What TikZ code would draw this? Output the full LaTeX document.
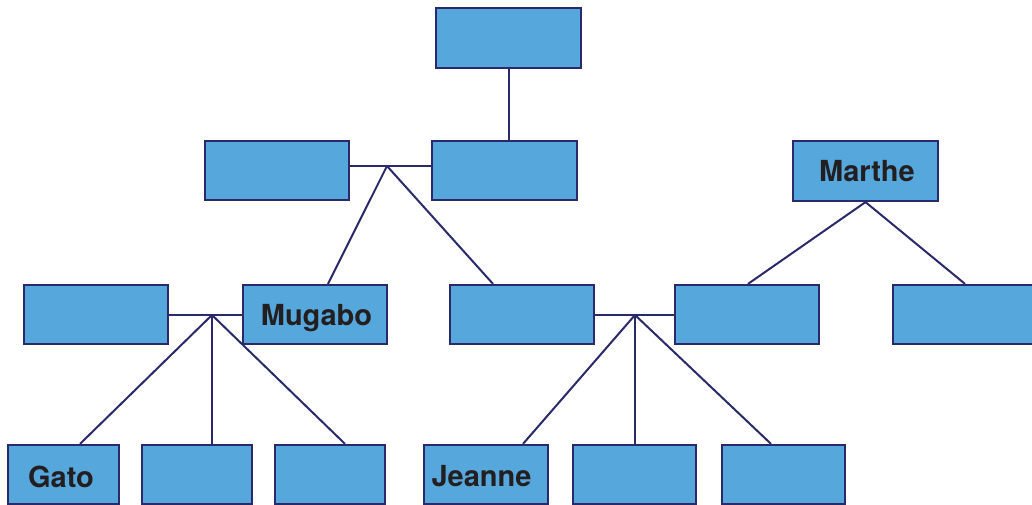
\documentclass[tikz,border=0pt]{standalone}
\usepackage{fontspec}
\setmainfont{TeX Gyre Heros}
\definecolor{boxfill}{HTML}{55A7DC}
\definecolor{navy}{HTML}{2A2A6A}
\definecolor{ink}{HTML}{231F20}
\begin{document}
\begin{tikzpicture}[x=1pt,y=-1pt,
  person/.style={draw=navy,line width=2.2pt,fill=boxfill,inner sep=0pt,
    minimum height=59pt},
  every label/.style={font=\fontsize{29}{31}\selectfont\bfseries,text=ink,
    inner sep=0pt,text height=20.8pt,text depth=0pt},
  link/.style={draw=navy,line width=2pt}]
\useasboundingbox (0,0) rectangle (1032,505);
% generation 1
\node[person,minimum width=145pt,minimum height=60pt] (top) at (508.5,38) {};
% generation 2
\node[person,minimum width=144pt] (p1) at (277,170.5) {};
\node[person,minimum width=145pt] (p2) at (504.5,170.5) {};
\node[person,minimum width=145pt,minimum height=60pt,
  label={[xshift=1.5pt]center:Marthe}] (marthe) at (865.5,171) {};
% generation 3
\node[person,minimum width=144pt] (r1) at (96,314.5) {};
\node[person,minimum width=144pt,
  label={[xshift=1.5pt,yshift=-0.5pt]center:Mugabo}] (mugabo) at (315,314.5) {};
\node[person,minimum width=144pt] (r3) at (522,314.5) {};
\node[person,minimum width=144pt] (r4) at (747,314.5) {};
\node[person,minimum width=144pt] (r5) at (965,314.5) {};
% generation 4
\node[person,minimum width=111pt,
  label={[xshift=-2.5pt,yshift=-2.5pt]center:Gato}] (gato) at (63.5,474.5) {};
\node[person,minimum width=110pt] (c2) at (197,474.5) {};
\node[person,minimum width=110pt] (c3) at (330,474.5) {};
\node[person,minimum width=124pt,
  label={[xshift=-4.5pt,yshift=-2pt]center:Jeanne}] (jeanne) at (486,474.5) {};
\node[person,minimum width=123pt] (c5) at (634.5,474.5) {};
\node[person,minimum width=123pt] (c6) at (783.5,474.5) {};
% junctions
\coordinate (j1) at (387,166);
\coordinate (j2) at (212,315);
\coordinate (j3) at (635,315);
% links
\draw[link] (top.south) -- (top.south |- p2.north);
\draw[link] (p1.east |- j1) -- (j1) -- (p2.west |- j1);
\draw[link] (j1) -- ([xshift=13pt]mugabo.north);
\draw[link] (j1) -- ([xshift=-29pt]r3.north);
\draw[link] (marthe.south) -- ([xshift=1pt]r4.north);
\draw[link] (marthe.south) -- (r5.north);
\draw[link] (r1.east |- j2) -- (j2) -- (mugabo.west |- j2);
\draw[link] (j2) -- ([xshift=16.5pt]gato.north);
\draw[link] (j2) -- (j2 |- c2.north);
\draw[link] (j2) -- ([xshift=15pt]c3.north);
\draw[link] (r3.east |- j3) -- (j3) -- (r4.west |- j3);
\draw[link] (j3) -- ([xshift=37pt]jeanne.north);
\draw[link] (j3) -- (j3 |- c5.north);
\draw[link] (j3) -- ([xshift=-12.5pt]c6.north);
\end{tikzpicture}
\end{document}
